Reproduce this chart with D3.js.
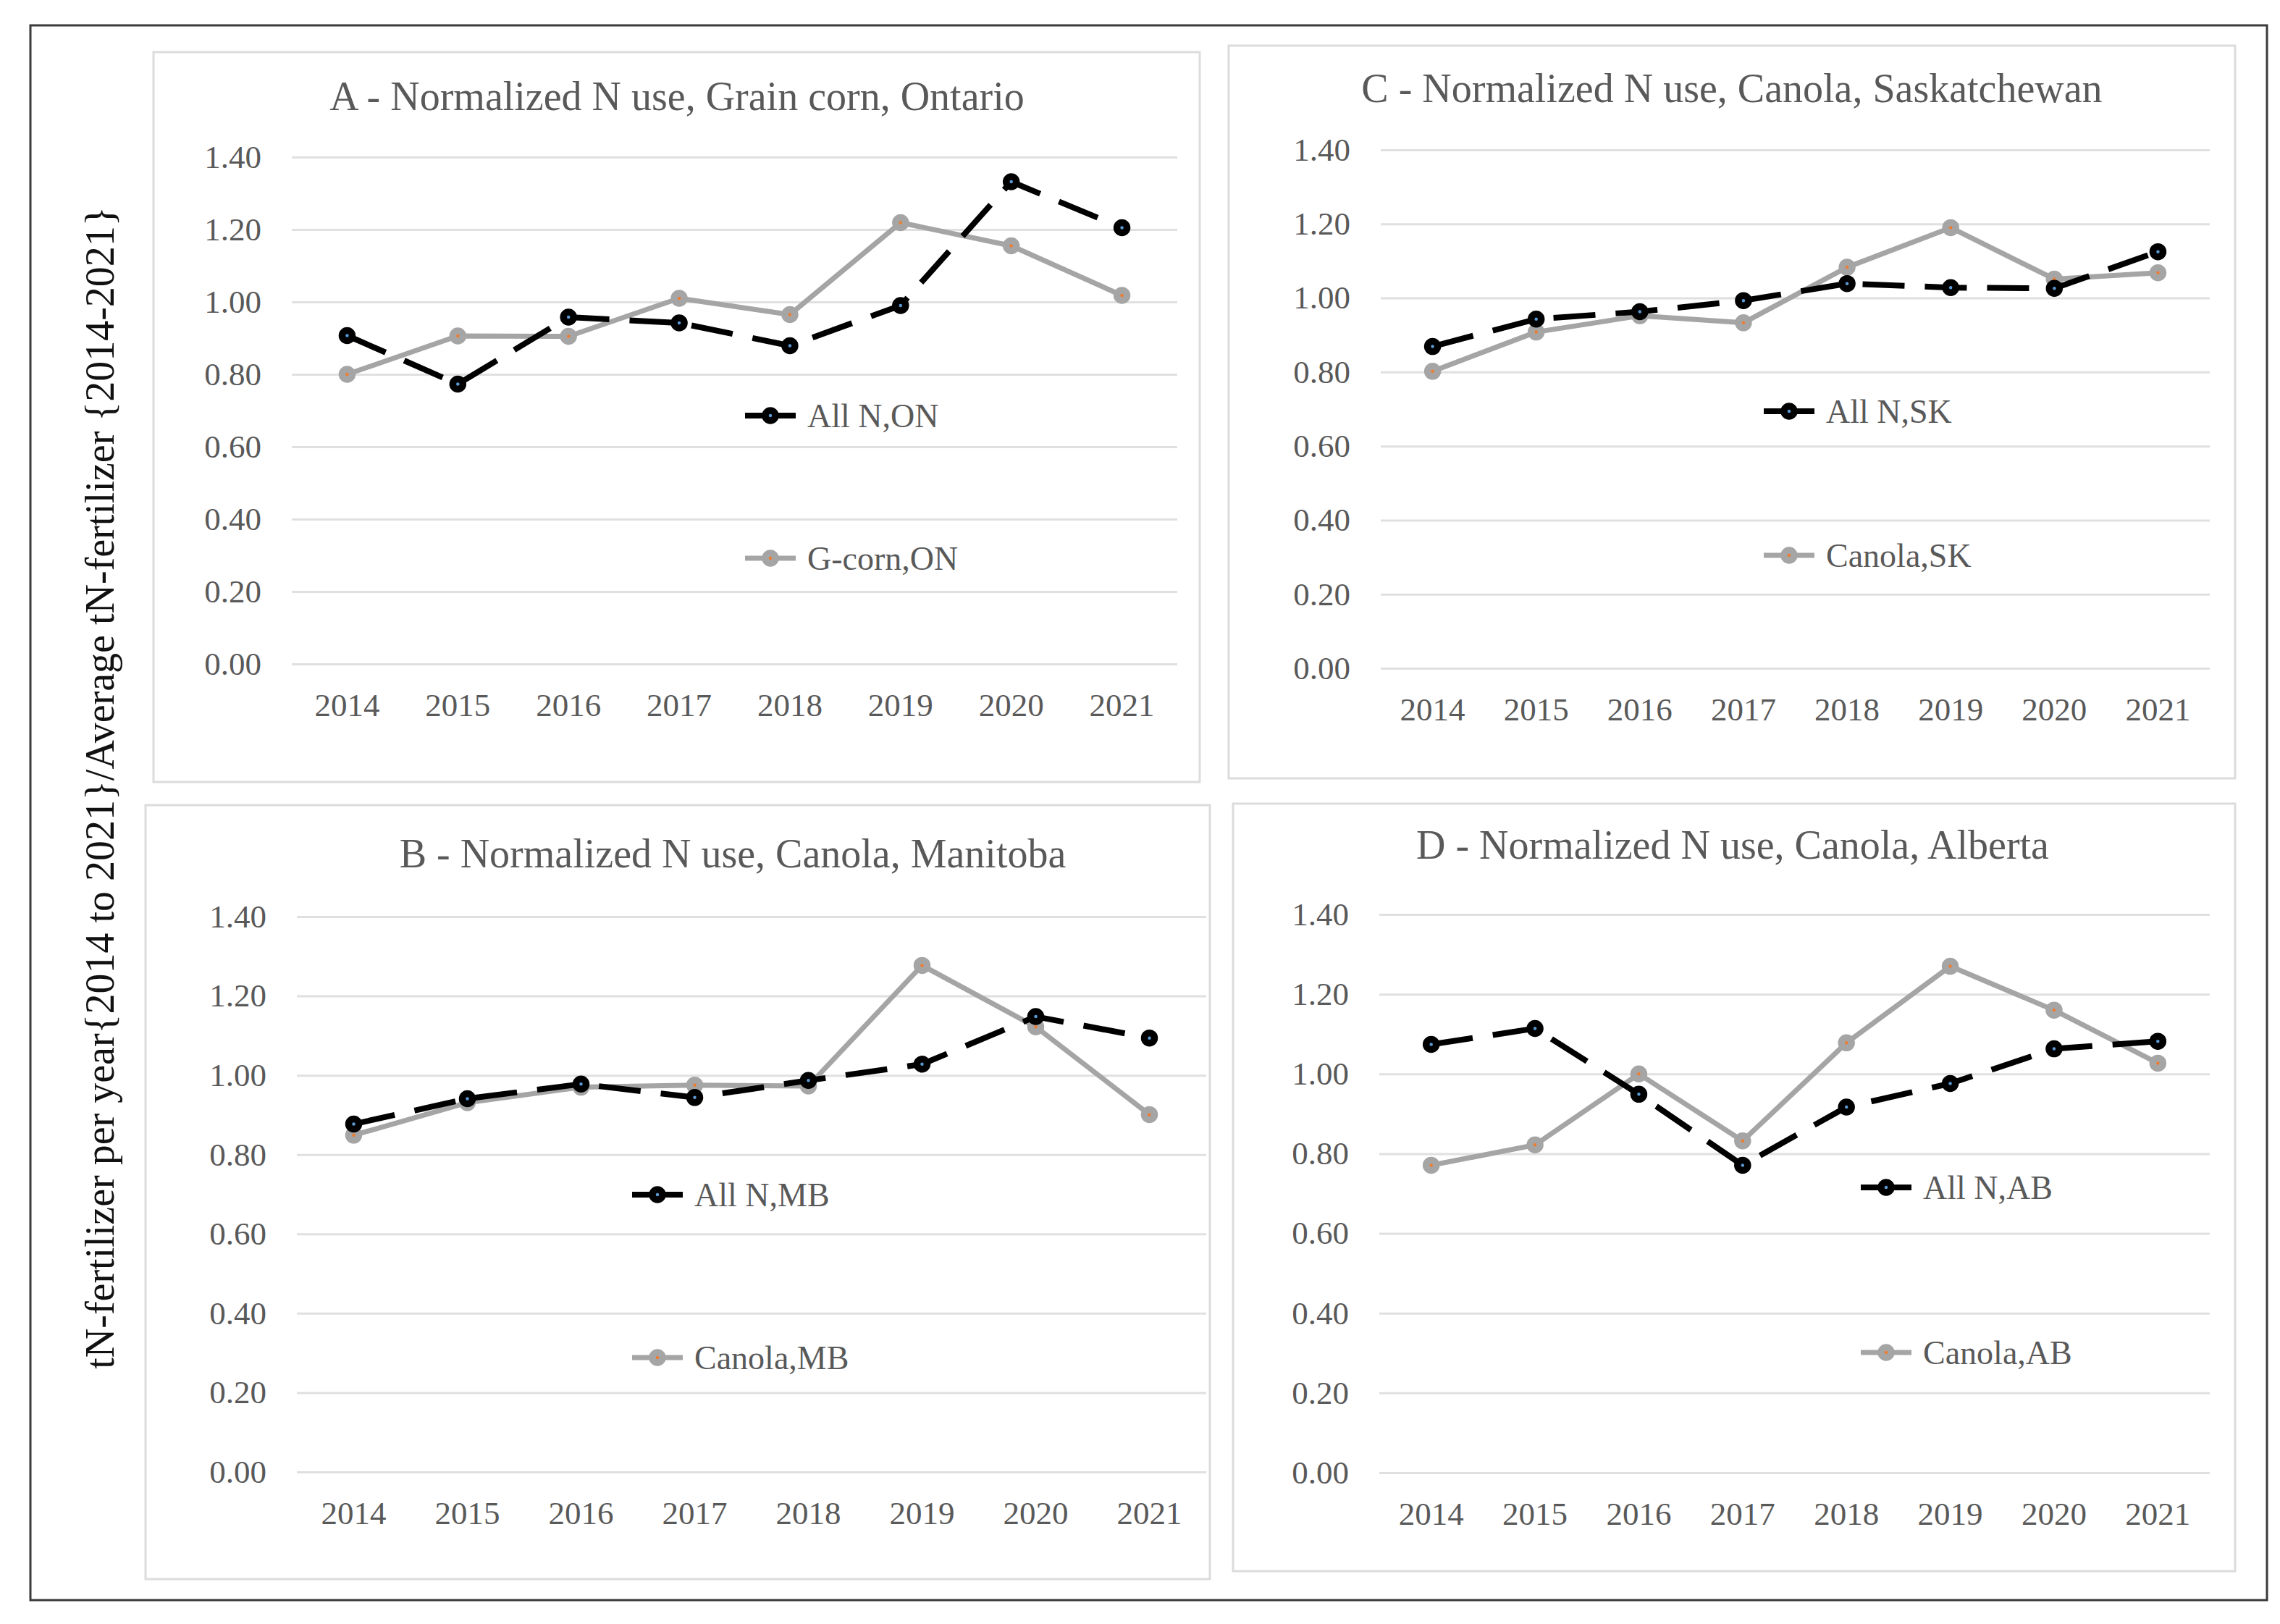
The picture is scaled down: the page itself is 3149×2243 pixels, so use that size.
<!DOCTYPE html>
<html>
<head>
<meta charset="utf-8">
<script src="https://cdn.jsdelivr.net/npm/d3@7"></script>
<style>
  body { margin: 0; background: #fff; }
  svg { display: block; }
</style>
</head>
<body>
<svg id="chart" width="3149" height="2243"></svg>
<script>
var years = ["2014", "2015", "2016", "2017", "2018", "2019", "2020", "2021"];
var yTicks = [0, 0.2, 0.4, 0.6, 0.8, 1.0, 1.2, 1.4];

var allN_ON = [0.907, 0.773, 0.958, 0.942, 0.879, 0.990, 1.332, 1.205];
var gcorn_ON = [0.800, 0.906, 0.905, 1.010, 0.965, 1.219, 1.155, 1.018];
var allN_SK = [0.869, 0.943, 0.963, 0.993, 1.039, 1.028, 1.026, 1.125];
var canola_SK = [0.802, 0.908, 0.952, 0.933, 1.083, 1.190, 1.051, 1.068];
var allN_MB = [0.877, 0.941, 0.978, 0.944, 0.987, 1.028, 1.148, 1.094];
var canola_MB = [0.849, 0.931, 0.970, 0.975, 0.973, 1.277, 1.122, 0.901];
var allN_AB = [1.074, 1.114, 0.949, 0.771, 0.917, 0.976, 1.063, 1.082];
var canola_AB = [0.771, 0.822, 1.000, 0.832, 1.078, 1.270, 1.160, 1.027];

var yLabel = "tN-fertilizer per year{2014 to 2021}/Average tN-fertilizer {2014-2021}";
var font = "'Liberation Serif', 'Times New Roman', serif";

// layout of the four panels (pixels)
var panels = [
    { title: "A - Normalized N use, Grain corn, Ontario", box: [212, 72, 1445, 1008],
      plot: [403, 1626, 217, 917], titleAt: [935, 133],
      legend: [1029, 574, 771], names: ["All N,ON", "G-corn,ON"], series: [allN_ON, gcorn_ON] },
    { title: "C - Normalized N use, Canola, Saskatchewan", box: [1697, 63, 1390, 1012],
      plot: [1907, 3052, 207, 923], titleAt: [2392, 122],
      legend: [2436, 568, 767], names: ["All N,SK", "Canola,SK"], series: [allN_SK, canola_SK] },
    { title: "B - Normalized N use, Canola, Manitoba", box: [201, 1112, 1470, 1069],
      plot: [410, 1666, 1266, 2033], titleAt: [1012, 1179],
      legend: [873, 1650, 1875], names: ["All N,MB", "Canola,MB"], series: [allN_MB, canola_MB] },
    { title: "D - Normalized N use, Canola, Alberta", box: [1703, 1110, 1384, 1060],
      plot: [1905, 3052, 1263, 2034], titleAt: [2393, 1167],
      legend: [2570, 1640, 1868], names: ["All N,AB", "Canola,AB"], series: [allN_AB, canola_AB] }
];

var styles = [
    { stroke: "#000000", width: 8, dash: "58,28", fill: "#5b9bd5" },
    { stroke: "#a5a5a5", width: 7, dash: null, fill: "#ed7d31" }
];

var svg = d3.select("#chart");

svg.append("rect")
    .attr("x", 42).attr("y", 35)
    .attr("width", 3089).attr("height", 2175)
    .attr("fill", "none")
    .attr("stroke", "#3a3a3a")
    .attr("stroke-width", 3);

svg.append("text")
    .attr("transform", "translate(138,1088) rotate(-90)")
    .attr("text-anchor", "middle")
    .attr("dominant-baseline", "central")
    .attr("font-family", font)
    .attr("font-size", 56)
    .attr("fill", "#111")
    .text(yLabel);

function drawPanel(p) {
    var g = svg.append("g");

    g.append("rect")
        .attr("x", p.box[0]).attr("y", p.box[1])
        .attr("width", p.box[2]).attr("height", p.box[3])
        .attr("fill", "#fff")
        .attr("stroke", "#dcdcdc")
        .attr("stroke-width", 3);

    g.append("text")
        .attr("x", p.titleAt[0]).attr("y", p.titleAt[1])
        .attr("text-anchor", "middle")
        .attr("dominant-baseline", "central")
        .attr("font-family", font)
        .attr("font-size", 56)
        .attr("fill", "#595959")
        .text(p.title);

    var x = d3.scaleBand().domain(years).range([p.plot[0], p.plot[1]]).padding(0);
    var y = d3.scaleLinear().domain([0, 1.4]).range([p.plot[3], p.plot[2]]);
    var w = p.plot[1] - p.plot[0];

    var yAxis = d3.axisLeft(y)
        .tickValues(yTicks)
        .tickFormat(d3.format(".2f"))
        .tickSizeInner(-w)
        .tickSizeOuter(0)
        .tickPadding(42);

    var ya = g.append("g")
        .attr("transform", "translate(" + p.plot[0] + ",0)")
        .call(yAxis);
    ya.select(".domain").remove();
    ya.selectAll("line").attr("stroke", "#e0e0e0").attr("stroke-width", 3);
    ya.selectAll("text")
        .attr("font-family", font)
        .attr("font-size", 45)
        .attr("fill", "#595959");

    var xAxis = d3.axisBottom(x).tickSize(0).tickPadding(40);
    var xa = g.append("g")
        .attr("transform", "translate(0," + p.plot[3] + ")")
        .call(xAxis);
    xa.select(".domain").remove();
    xa.selectAll("text")
        .attr("font-family", font)
        .attr("font-size", 45)
        .attr("fill", "#595959");

    var line = d3.line()
        .x(function (d, i) { return x(years[i]) + x.bandwidth() / 2; })
        .y(function (d) { return y(d); });

    // grey series drawn first so the black dashed one sits on top where they cross
    [1, 0].forEach(function (k) {
        var s = styles[k];
        var data = p.series[k];
        g.append("path")
            .attr("d", line(data))
            .attr("fill", "none")
            .attr("stroke", s.stroke)
            .attr("stroke-width", s.width)
            .attr("stroke-linejoin", "round")
            .attr("stroke-dasharray", s.dash);

        g.selectAll(null)
            .data(data)
            .enter()
            .append("circle")
            .attr("cx", function (d, i) { return x(years[i]) + x.bandwidth() / 2; })
            .attr("cy", function (d) { return y(d); })
            .attr("r", 7)
            .attr("fill", s.fill)
            .attr("stroke", s.stroke)
            .attr("stroke-width", 9.5);
    });

    // legend
    [0, 1].forEach(function (k) {
        var s = styles[k];
        var ly = p.legend[1 + k];
        var lx = p.legend[0];
        g.append("line")
            .attr("x1", lx).attr("x2", lx + 70)
            .attr("y1", ly).attr("y2", ly)
            .attr("stroke", s.stroke)
            .attr("stroke-width", s.width);
        g.append("circle")
            .attr("cx", lx + 35).attr("cy", ly)
            .attr("r", 7)
            .attr("fill", s.fill)
            .attr("stroke", s.stroke)
            .attr("stroke-width", 9.5);
        g.append("text")
            .attr("x", lx + 86).attr("y", ly)
            .attr("dominant-baseline", "central")
            .attr("font-family", font)
            .attr("font-size", 46)
            .attr("fill", "#595959")
            .text(p.names[k]);
    });
}

panels.forEach(drawPanel);
</script>
</body>
</html>
